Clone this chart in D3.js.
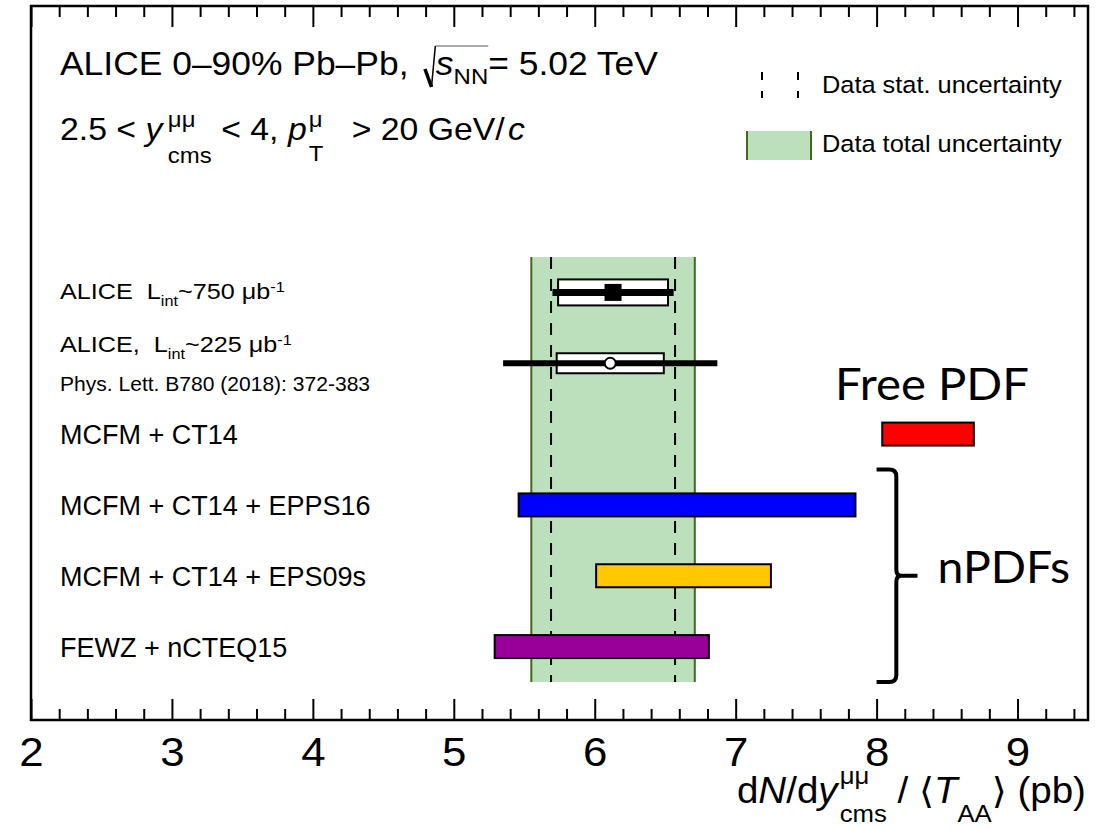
<!DOCTYPE html>
<html>
<head>
<meta charset="utf-8">
<script src="https://cdn.jsdelivr.net/npm/d3@7"></script>
<style>
  html, body { margin: 0; padding: 0; background: #fff; }
  svg text { white-space: pre; }
</style>
</head>
<body>
<svg id="chart" width="1109" height="830"></svg>
<script>
// ---- data -------------------------------------------------------------
// rows of the figure, top to bottom
const rowKeys = ["alice750", "alice225", "ct14", "epps16", "eps09s", "ncteq15"];

// ALICE measurements: central value, statistical and systematic half-widths (pb)
const dataKeys  = ["alice750", "alice225"];
const dataValue = [6.13, 6.11];
const dataStat  = [0.43, 0.76];
const dataSyst  = [0.39, 0.38];

// uncertainty band of the new measurement (pb)
const bandStat  = [5.69, 6.57];
const bandTotal = [5.55, 6.71];

// theory predictions: lower / upper edge of each band (pb)
const modelKeys   = ["ct14", "epps16", "eps09s", "ncteq15"];
const modelLow    = [8.04, 5.46, 6.01, 5.29];
const modelHigh   = [8.69, 7.85, 7.25, 6.81];
const modelLabels = ["MCFM + CT14", "MCFM + CT14 + EPPS16", "MCFM + CT14 + EPS09s", "FEWZ + nCTEQ15"];

// x axis
const xDomain     = [2, 9.5];
const xMajorTicks = [2, 3, 4, 5, 6, 7, 8, 9];

// ---- styling -----------------------------------------------------------
const modelColors = ["#ff0000", "#0000ff", "#ffc800", "#990099"];
const FONT = "'Liberation Sans', Arial, Helvetica, 'DejaVu Sans', sans-serif";
const FONT2 = "Lato, 'Open Sans', sans-serif";
const greenFill = "#bde0bc";
const greenEdge = "#3d6b1a";

const svg = d3.select("#chart").style("font-family", FONT);

const x = d3.scaleLinear().domain(xDomain).range([31, 1088]);
const y = d3.scalePoint().domain(rowKeys).range([257, 682]).padding(0.5);
const plotTop = 6, plotBottom = 720;
const minorTicks = d3.range(xDomain[0], xDomain[1] + 1e-9, 0.2)
  .map(v => Math.round(v * 10) / 10)
  .filter(v => Math.abs(v - Math.round(v)) > 1e-6);

// Text made of runs: {t, fs, it, dy, stack} ; stack puts the run at the start
// of the previous run (super/subscript pairs). sqrt:"open"/"close" draws a root sign.
function rich(parent, x0, y0, runs, opt) {
  const o = Object.assign({ fs: 20, sx: 1, anchor: "start", family: FONT }, opt || {});
  const g = parent.append("g");
  const inner = g.append("g");
  let cx = 0, lastStart = 0, sqrtStart = 0;
  runs.forEach(r => {
    if (r.sqrt === "open") {
      inner.append("path").attr("d", `M${cx + 6},-6 L${cx + 12},12`)
        .attr("stroke", "#000").attr("stroke-width", 3.2).attr("fill", "none");
      inner.append("path").attr("d", `M${cx + 12},12 L${cx + 15.5},-29`)
        .attr("stroke", "#000").attr("stroke-width", 1.4).attr("fill", "none");
      cx += 16; sqrtStart = cx - 0.5;
      return;
    }
    if (r.sqrt === "close") {
      inner.append("path").attr("d", `M${sqrtStart},-29 H${cx}`)
        .attr("stroke", "#555").attr("stroke-width", 1.2).attr("fill", "none");
      return;
    }
    const fs = r.fs || o.fs;
    const sx = r.stack ? lastStart : cx;
    const t = inner.append("text")
      .attr("x", sx).attr("y", r.dy || 0)
      .style("font-size", fs + "px")
      .style("font-family", o.family)
      .style("font-style", r.it ? "italic" : "normal")
      .attr("fill", "#000")
      .text(r.t);
    const w = t.node().getComputedTextLength() + (r.gap || 0);
    if (r.stack) { cx = Math.max(cx, sx + w); }
    else { lastStart = sx; cx = sx + w; }
  });
  const shift = o.anchor === "end" ? -cx * o.sx : (o.anchor === "middle" ? -cx * o.sx / 2 : 0);
  g.attr("transform", `translate(${x0 + shift},${y0}) scale(${o.sx},1)`);
  return g;
}

// ---- data uncertainty band ---------------------------------------------
const [bandY0, bandY1] = y.range();
svg.append("rect")
  .attr("x", x(bandTotal[0])).attr("y", bandY0)
  .attr("width", x(bandTotal[1]) - x(bandTotal[0])).attr("height", bandY1 - bandY0)
  .attr("fill", greenFill);
svg.selectAll("line.bandEdge").data(bandTotal).join("line")
  .attr("class", "bandEdge")
  .attr("x1", d => x(d)).attr("x2", d => x(d))
  .attr("y1", bandY0).attr("y2", bandY1)
  .attr("stroke", greenEdge).attr("stroke-width", 2);
svg.selectAll("line.bandStat").data(bandStat).join("line")
  .attr("class", "bandStat")
  .attr("x1", d => x(d)).attr("x2", d => x(d))
  .attr("y1", bandY0).attr("y2", bandY1)
  .attr("stroke", "#000").attr("stroke-width", 2)
  .attr("stroke-dasharray", "12,10");

// ---- theory predictions --------------------------------------------------
const barH = 23;
svg.selectAll("rect.model").data(modelKeys).join("rect")
  .attr("class", "model")
  .attr("x", (d, i) => x(modelLow[i]))
  .attr("y", d => y(d) - barH / 2)
  .attr("width", (d, i) => x(modelHigh[i]) - x(modelLow[i]))
  .attr("height", barH)
  .attr("fill", (d, i) => modelColors[i])
  .attr("stroke", "#000").attr("stroke-width", 2);

// ---- ALICE points -----------------------------------------------------------
const boxH = [26, 20], lineW = [7, 6];
dataKeys.forEach((k, i) => {
  const cy = y(k);
  svg.append("rect")
    .attr("x", x(dataValue[i] - dataSyst[i])).attr("y", cy - boxH[i] / 2)
    .attr("width", x(dataValue[i] + dataSyst[i]) - x(dataValue[i] - dataSyst[i]))
    .attr("height", boxH[i])
    .attr("fill", "#fff").attr("stroke", "#000").attr("stroke-width", 2);
  svg.append("line")
    .attr("x1", x(dataValue[i] - dataStat[i])).attr("x2", x(dataValue[i] + dataStat[i]))
    .attr("y1", cy).attr("y2", cy)
    .attr("stroke", "#000").attr("stroke-width", lineW[i]);
});
svg.append("rect")
  .attr("x", x(dataValue[0]) - 8.5).attr("y", y(dataKeys[0]) - 8.5)
  .attr("width", 17).attr("height", 17).attr("fill", "#000");
svg.append("circle")
  .attr("cx", x(dataValue[1])).attr("cy", y(dataKeys[1])).attr("r", 5.5)
  .attr("fill", "#fff").attr("stroke", "#000").attr("stroke-width", 2);

// ---- row labels ---------------------------------------------------------------
const labelX = 60;
rich(svg, labelX, y("alice750") + 7, [
  { t: "ALICE  L" }, { t: "int", fs: 14.5, dy: 7 }, { t: "~750 μb" }, { t: "-1", fs: 14.5, dy: -7 }
], { fs: 22.5, sx: 1.12 });
rich(svg, labelX, y("alice225") - 11, [
  { t: "ALICE,  L" }, { t: "int", fs: 14.5, dy: 7 }, { t: "~225 μb" }, { t: "-1", fs: 14.5, dy: -7 }
], { fs: 22.5, sx: 1.12 });
rich(svg, labelX, y("alice225") + 28, [
  { t: "Phys. Lett. B780 (2018): 372-383" }
], { fs: 19.5, sx: 1.08 });
modelKeys.forEach((k, i) => {
  rich(svg, labelX, y(k) + 10, [{ t: modelLabels[i] }], { fs: 27, sx: 1.0 });
});

// ---- grouping annotations -------------------------------------------------
const redMid = (x(modelLow[0]) + x(modelHigh[0])) / 2;
rich(svg, redMid + 4, y("ct14") - 34, [{ t: "Free PDF" }],
  { fs: 45, sx: 1.05, anchor: "middle", family: FONT2 });

const bx0 = x(8.0), bx1 = x(8.14), bTip = x(8.29);
const bTop = (y("ct14") + y("epps16")) / 2, bMid = y("eps09s"), bBot = bandY1;
svg.append("path")
  .attr("d", `M${bx0},${bTop} H${bx1 - 7} Q${bx1},${bTop} ${bx1},${bTop + 7}` +
             ` V${bMid - 6} Q${bx1},${bMid} ${bx1 + 5},${bMid} H${bTip}` +
             ` M${bx1 + 5},${bMid} Q${bx1},${bMid} ${bx1},${bMid + 6}` +
             ` V${bBot - 7} Q${bx1},${bBot} ${bx1 - 7},${bBot} H${bx0}`)
  .attr("fill", "none").attr("stroke", "#000").attr("stroke-width", 4)
  .attr("stroke-linejoin", "round");
rich(svg, bTip + 20, bMid + 7, [{ t: "nPDFs" }],
  { fs: 45, sx: 1.03, family: FONT2 });

// ---- axes --------------------------------------------------------------------
function styleAxis(g) {
  g.select(".domain").remove();
  g.selectAll(".tick line").attr("stroke", "#000").attr("stroke-width", 2);
}
const axB = svg.append("g").attr("transform", `translate(0,${plotBottom})`)
  .call(d3.axisBottom(x).tickValues(xMajorTicks).tickSize(-21).tickSizeOuter(0)
    .tickFormat(d3.format("d")))
  .call(styleAxis);
axB.selectAll(".tick text")
  .attr("y", 46).attr("dy", 0)
  .style("font-size", "41px").style("font-family", FONT).attr("fill", "#000")
  .attr("transform", "scale(1.07,1)");
svg.append("g").attr("transform", `translate(0,${plotBottom})`)
  .call(d3.axisBottom(x).tickValues(minorTicks).tickSize(-11).tickSizeOuter(0).tickFormat(""))
  .call(styleAxis);
svg.append("g").attr("transform", `translate(0,${plotTop})`)
  .call(d3.axisTop(x).tickValues(xMajorTicks).tickSize(-21).tickSizeOuter(0).tickFormat(""))
  .call(styleAxis);
svg.append("g").attr("transform", `translate(0,${plotTop})`)
  .call(d3.axisTop(x).tickValues(minorTicks).tickSize(-11).tickSizeOuter(0).tickFormat(""))
  .call(styleAxis);

// frame
svg.append("rect")
  .attr("x", x.range()[0]).attr("y", plotTop)
  .attr("width", x.range()[1] - x.range()[0]).attr("height", plotBottom - plotTop)
  .attr("fill", "none").attr("stroke", "#000").attr("stroke-width", 2.5);

// axis title
rich(svg, x.range()[1] - 2, 803, [
  { t: "d" }, { t: "N", it: true }, { t: "/d" }, { t: "y", it: true, gap: 2 },
  { t: "μμ", fs: 24, dy: -19 }, { t: "cms", fs: 24, dy: 19, stack: true },
  { t: " / ⟨" }, { t: "T", it: true }, { t: "AA", fs: 24, dy: 19 }, { t: "⟩ (pb)" }
], { fs: 36, sx: 1.07, anchor: "end" });

// ---- header --------------------------------------------------------------------
rich(svg, 60, 75, [
  { t: "ALICE 0–90% Pb–Pb, " }, { sqrt: "open" }, { t: "s", it: true },
  { t: "NN", fs: 22, dy: 9 }, { sqrt: "close" }, { t: "= 5.02 TeV" }
], { fs: 32.5, sx: 1.09 });
rich(svg, 60, 140, [
  { t: "2.5 < " }, { t: "y", it: true, gap: 5 },
  { t: "μμ", fs: 22, dy: -13 }, { t: "cms", fs: 22, dy: 23, stack: true },
  { t: " < 4, " }, { t: "p", it: true, gap: 2 },
  { t: "μ", fs: 22, dy: -13 }, { t: "T", fs: 22, dy: 21, stack: true },
  { t: "   > 20 " }, { t: "GeV/", gap: 3 }, { t: "c", it: true }
], { fs: 31, sx: 1.09 });

// ---- legend ----------------------------------------------------------------------
const legX = 747, legTextX = 822;
[legX + 15, legX + 51].forEach(lx => {
  svg.append("line").attr("x1", lx).attr("x2", lx).attr("y1", 72).attr("y2", 98)
    .attr("stroke", "#000").attr("stroke-width", 2).attr("stroke-dasharray", "8,11");
});
rich(svg, legTextX, 93, [{ t: "Data stat. uncertainty" }], { fs: 23.5, sx: 1.08 });
svg.append("rect").attr("x", legX).attr("y", 131).attr("width", 64).attr("height", 29)
  .attr("fill", greenFill);
[legX, legX + 64].forEach(lx => {
  svg.append("line").attr("x1", lx).attr("x2", lx).attr("y1", 131).attr("y2", 160)
    .attr("stroke", greenEdge).attr("stroke-width", 2);
});
rich(svg, legTextX, 152, [{ t: "Data total uncertainty" }], { fs: 23.5, sx: 1.08 });
</script>
</body>
</html>
